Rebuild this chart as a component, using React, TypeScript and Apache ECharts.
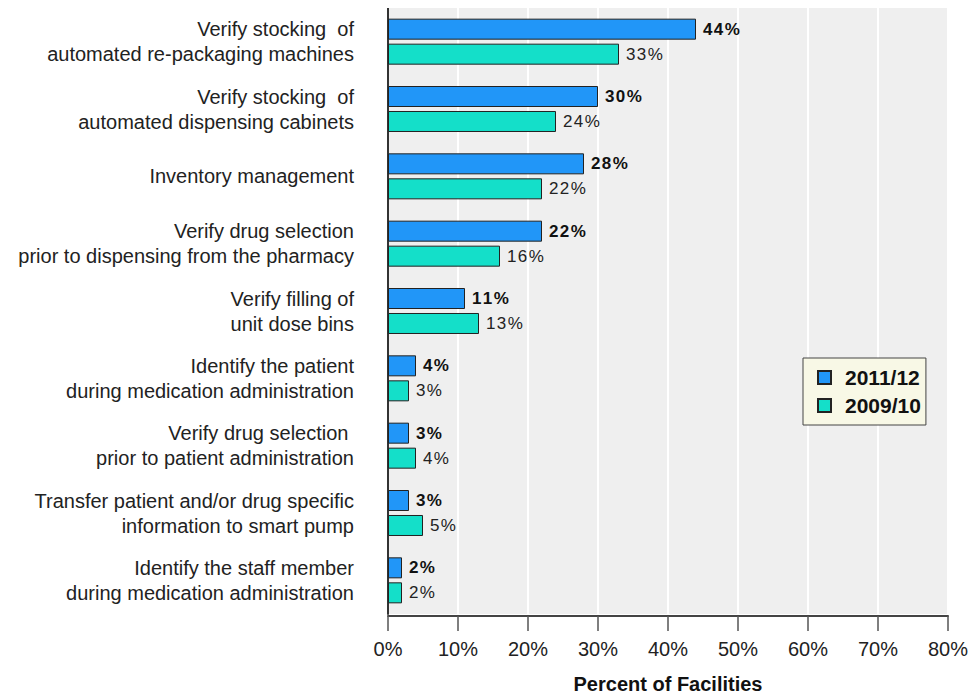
import React, { useEffect, useRef } from "react";
import * as echarts from "echarts";

const categories: string[] = [
  "Verify stocking  of\nautomated re-packaging machines",
  "Verify stocking  of\nautomated dispensing cabinets",
  "Inventory management",
  "Verify drug selection\nprior to dispensing from the pharmacy",
  "Verify filling of\nunit dose bins",
  "Identify the patient\nduring medication administration",
  "Verify drug selection \nprior to patient administration",
  "Transfer patient and/or drug specific\ninformation to smart pump",
  "Identify the staff member\nduring medication administration",
];

const seriesNames: string[] = ["2011/12", "2009/10"];
const values2011: number[] = [44, 30, 28, 22, 11, 4, 3, 3, 2];
const values2009: number[] = [33, 24, 22, 16, 13, 3, 4, 5, 2];

const xTicks = { min: 0, max: 80, interval: 10 };

const FONT = "'Liberation Sans', Arial, Helvetica, sans-serif";
const BLUE = "#2196f8";
const TEAL = "#14dfc9";

// spread the characters of a value label slightly apart
const spaced = (s: string) => s.split("").join("\u200A");

export default function App() {
  const ref = useRef<HTMLDivElement>(null);

  useEffect(() => {
    if (!ref.current) return;
    const chart = echarts.init(ref.current, null, { renderer: "svg" });

    const barLabel = (bold: boolean) => ({
      show: true,
      position: "right" as const,
      distance: 7,
      formatter: (p: any) => spaced(`${p.value}%`),
      fontFamily: FONT,
      fontSize: 17,
      fontWeight: bold ? ("bold" as const) : ("normal" as const),
      color: bold ? "#111" : "#222",
    });

    chart.setOption({
      animation: false,
      textStyle: { fontFamily: FONT },
      grid: {
        left: 380,
        top: 0,
        width: 560,
        height: 606,
        outerBoundsMode: "none",
        show: true,
        backgroundColor: "#efefef",
        borderWidth: 0,
      },
      legend: {
        orient: "vertical",
        left: 795,
        top: 350,
        padding: [9, 5, 9, 14],
        icon: "rect",
        itemWidth: 13,
        itemHeight: 13,
        itemGap: 7,
        backgroundColor: "#f8f8e6",
        borderColor: "#444",
        borderWidth: 1,
        borderRadius: 0,
        data: seriesNames,
        textStyle: {
          fontFamily: FONT,
          fontSize: 21,
          fontWeight: "bold",
          color: "#111",
          padding: [0, 0, 0, 9],
        },
      },
      xAxis: {
        type: "value",
        min: xTicks.min,
        max: xTicks.max,
        interval: xTicks.interval,
        offset: 2,
        name: "Percent of Facilities",
        nameLocation: "middle",
        nameGap: 58,
        nameTextStyle: {
          fontFamily: FONT,
          fontSize: 20,
          fontWeight: "bold",
          color: "#111",
        },
        axisLine: { show: true, lineStyle: { color: "#444", width: 2 } },
        axisTick: { show: true, length: 15, lineStyle: { color: "#555", width: 1.5 } },
        axisLabel: {
          formatter: "{value}%",
          fontFamily: FONT,
          fontSize: 20,
          color: "#222",
          margin: 23,
        },
        splitLine: { show: true, lineStyle: { color: "#ffffff", width: 2 } },
      },
      yAxis: {
        type: "category",
        data: categories,
        inverse: true,
        axisLine: { show: true, lineStyle: { color: "#333", width: 2 } },
        axisTick: { show: false },
        axisLabel: {
          fontFamily: FONT,
          fontSize: 20,
          color: "#222",
          lineHeight: 25,
          align: "right",
          margin: 34,
        },
        splitLine: { show: false },
      },
      series: [
        {
          name: seriesNames[0],
          type: "bar",
          data: values2011,
          barWidth: 21,
          barGap: "19%",
          itemStyle: { color: BLUE, borderColor: "#222", borderWidth: 1 },
          label: barLabel(true),
        },
        {
          name: seriesNames[1],
          type: "bar",
          data: values2009,
          barWidth: 21,
          barGap: "19%",
          itemStyle: { color: TEAL, borderColor: "#222", borderWidth: 1 },
          label: barLabel(false),
        },
      ],
    });

    return () => chart.dispose();
  }, []);

  return <div ref={ref} style={{ width: 960, height: 686 }} />;
}
